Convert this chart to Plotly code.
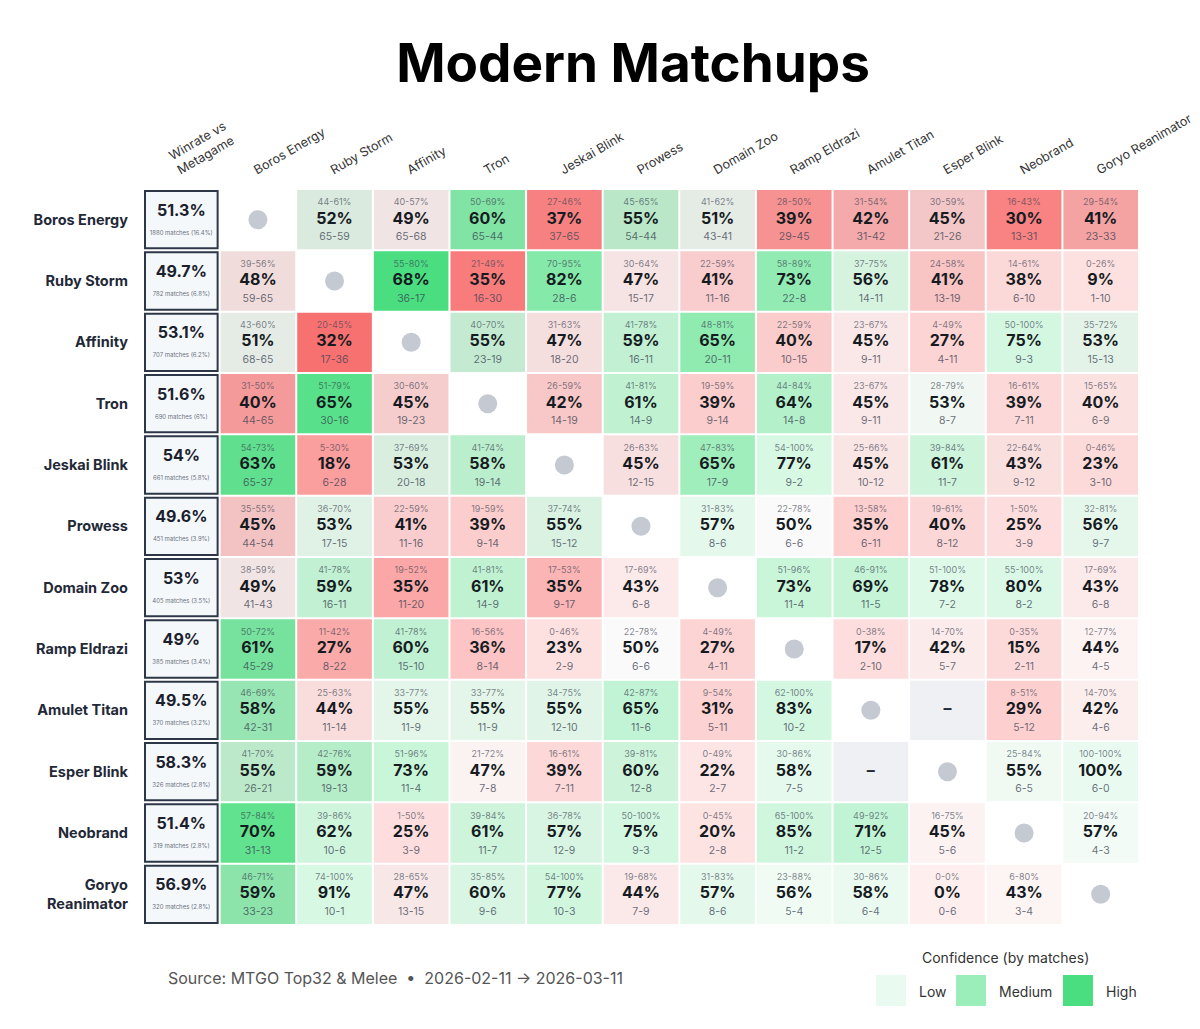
import plotly.graph_objects as go

DECKS = ["Boros Energy", "Ruby Storm", "Affinity", "Tron", "Jeskai Blink", "Prowess",
         "Domain Zoo", "Ramp Eldrazi", "Amulet Titan", "Esper Blink", "Neobrand", "Goryo Reanimator"]
ROW_LABELS = ["Boros Energy", "Ruby Storm", "Affinity", "Tron", "Jeskai Blink", "Prowess",
              "Domain Zoo", "Ramp Eldrazi", "Amulet Titan", "Esper Blink", "Neobrand", "Goryo<br>Reanimator"]
HEADER_FIRST = "Winrate vs<br>Metagame"

META_WR = [51.3, 49.7, 53.1, 51.6, 54, 49.6, 53, 49, 49.5, 58.3, 51.4, 56.9]
META_MATCHES = [1880, 782, 707, 690, 661, 451, 405, 385, 370, 326, 319, 320]
META_SHARE = ["16.4", "6.8", "6.2", "6", "5.8", "3.9", "3.5", "3.4", "3.2", "2.8", "2.8", "2.8"]

N = None
WR = [
    [N, 52, 49, 60, 37, 55, 51, 39, 42, 45, 30, 41],
    [48, N, 68, 35, 82, 47, 41, 73, 56, 41, 38, 9],
    [51, 32, N, 55, 47, 59, 65, 40, 45, 27, 75, 53],
    [40, 65, 45, N, 42, 61, 39, 64, 45, 53, 39, 40],
    [63, 18, 53, 58, N, 45, 65, 77, 45, 61, 43, 23],
    [45, 53, 41, 39, 55, N, 57, 50, 35, 40, 25, 56],
    [49, 59, 35, 61, 35, 43, N, 73, 69, 78, 80, 43],
    [61, 27, 60, 36, 23, 50, 27, N, 17, 42, 15, 44],
    [58, 44, 55, 55, 55, 65, 31, 83, N, N, 29, 42],
    [55, 59, 73, 47, 39, 60, 22, 58, N, N, 55, 100],
    [70, 62, 25, 61, 57, 75, 20, 85, 71, 45, N, 57],
    [59, 91, 47, 60, 77, 44, 57, 56, 58, 0, 43, N],
]
CI_LO = [
    [N, 44, 40, 50, 27, 45, 41, 28, 31, 30, 16, 29],
    [39, N, 55, 21, 70, 30, 22, 58, 37, 24, 14, 0],
    [43, 20, N, 40, 31, 41, 48, 22, 23, 4, 50, 35],
    [31, 51, 30, N, 26, 41, 19, 44, 23, 28, 16, 15],
    [54, 5, 37, 41, N, 26, 47, 54, 25, 39, 22, 0],
    [35, 36, 22, 19, 37, N, 31, 22, 13, 19, 1, 32],
    [38, 41, 19, 41, 17, 17, N, 51, 46, 51, 55, 17],
    [50, 11, 41, 16, 0, 22, 4, N, 0, 14, 0, 12],
    [46, 25, 33, 33, 34, 42, 9, 62, N, N, 8, 14],
    [41, 42, 51, 21, 16, 39, 0, 30, N, N, 25, 100],
    [57, 39, 1, 39, 36, 50, 0, 65, 49, 16, N, 20],
    [46, 74, 28, 35, 54, 19, 31, 23, 30, 0, 6, N],
]
CI_HI = [
    [N, 61, 57, 69, 46, 65, 62, 50, 54, 59, 43, 54],
    [56, N, 80, 49, 95, 64, 59, 89, 75, 58, 61, 26],
    [60, 45, N, 70, 63, 78, 81, 59, 67, 49, 100, 72],
    [50, 79, 60, N, 59, 81, 59, 84, 67, 79, 61, 65],
    [73, 30, 69, 74, N, 63, 83, 100, 66, 84, 64, 46],
    [55, 70, 59, 59, 74, N, 83, 78, 58, 61, 50, 81],
    [59, 78, 52, 81, 53, 69, N, 96, 91, 100, 100, 69],
    [72, 42, 78, 56, 46, 78, 49, N, 38, 70, 35, 77],
    [69, 63, 77, 77, 75, 87, 54, 100, N, N, 51, 70],
    [70, 76, 96, 72, 61, 81, 49, 86, N, N, 84, 100],
    [84, 86, 50, 84, 78, 100, 45, 100, 92, 75, N, 94],
    [71, 100, 65, 85, 100, 68, 83, 88, 86, 0, 80, N],
]
WINS = [
    [N, 65, 65, 65, 37, 54, 43, 29, 31, 21, 13, 23],
    [59, N, 36, 16, 28, 15, 11, 22, 14, 13, 6, 1],
    [68, 17, N, 23, 18, 16, 20, 10, 9, 4, 9, 15],
    [44, 30, 19, N, 14, 14, 9, 14, 9, 8, 7, 6],
    [65, 6, 20, 19, N, 12, 17, 9, 10, 11, 9, 3],
    [44, 17, 11, 9, 15, N, 8, 6, 6, 8, 3, 9],
    [41, 16, 11, 14, 9, 6, N, 11, 11, 7, 8, 6],
    [45, 8, 15, 8, 2, 6, 4, N, 2, 5, 2, 4],
    [42, 11, 11, 11, 12, 11, 5, 10, N, N, 5, 4],
    [26, 19, 11, 7, 7, 12, 2, 7, N, N, 6, 6],
    [31, 10, 3, 11, 12, 9, 2, 11, 12, 5, N, 4],
    [33, 10, 13, 9, 10, 7, 8, 5, 6, 0, 3, N],
]
LOSSES = [
    [N, 59, 68, 44, 65, 44, 41, 45, 42, 26, 31, 33],
    [65, N, 17, 30, 6, 17, 16, 8, 11, 19, 10, 10],
    [65, 36, N, 19, 20, 11, 11, 15, 11, 11, 3, 13],
    [65, 16, 23, N, 19, 9, 14, 8, 11, 7, 11, 9],
    [37, 28, 18, 14, N, 15, 9, 2, 12, 7, 12, 10],
    [54, 15, 16, 14, 12, N, 6, 6, 11, 12, 9, 7],
    [43, 11, 20, 9, 17, 8, N, 4, 5, 2, 2, 8],
    [29, 22, 10, 14, 9, 6, 11, N, 10, 7, 11, 5],
    [31, 14, 9, 9, 10, 6, 11, 2, N, N, 12, 6],
    [21, 13, 4, 8, 11, 8, 7, 5, N, N, 5, 0],
    [13, 6, 9, 7, 9, 3, 8, 2, 5, 6, N, 3],
    [23, 1, 15, 6, 3, 9, 6, 4, 4, 6, 4, N],
]

LEGEND_LABELS = ["Low", "Medium", "High"]
LEGEND_ALPHA = [0.12, 0.55, 1.0]

TITLE = "Modern Matchups"
SOURCE = "Source: MTGO Top32 &amp; Melee  •  2026-02-11 → 2026-03-11"
LEGEND_TITLE = "Confidence (by matches)"

# ---------------- styling helpers ----------------
FONT = "Inter"
GREEN = (74, 222, 128)
RED = (248, 113, 113)
GRAY = (240, 236, 236)

OFF = 8  # page body margin
W, H = 1200 - OFF, 1029 - OFF
PL, PT = 143 - OFF, 189 - OFF
PR, PB = 61, 104
NROW = len(DECKS)
NCOL = NROW + 1
XU = (W - PL - PR) / NCOL
YU = (H - PT - PB) / NROW


def mix(c1, c2, t):
    return tuple(c1[k] + (c2[k] - c1[k]) * t for k in range(3))


def rgb(c):
    return "rgb(%d,%d,%d)" % tuple(int(round(v)) for v in c)


def cell_color(wr, n):
    d = max(-1.0, min(1.0, (wr - 50) / 15.0))
    base = GREEN if d >= 0 else RED
    c = mix(GRAY, base, abs(d))
    a = max(0.08, min(1.0, n / 50.0))
    return rgb(mix((255, 255, 255), c, a))


def px_x(px):  # reference pixel -> paper x
    return (px - OFF - PL) / (W - PL - PR)


def px_y(py):  # reference pixel -> paper y
    return (H - PB - (py - OFF)) / (H - PT - PB)


shapes = []
fig = go.Figure()

# first column (winrate vs metagame)
gx, gy = 2 / XU, 2 / YU
for i in range(NROW):
    shapes.append(dict(type="rect", xref="x", yref="y", x0=-0.5 + gx, x1=0.5 - gx,
                       y0=i - 0.5 + gy, y1=i + 0.5 - gy,
                       fillcolor="#f5f8fb", line=dict(color="#2d3748", width=2), layer="below"))

fig.add_trace(go.Scatter(
    x=[0] * NROW, y=[i - 8 / YU for i in range(NROW)], mode="text",
    text=["<b>%s%%</b>" % (("%g" % v)) for v in META_WR],
    textfont=dict(family=FONT, size=16, color="#1a202c"), hoverinfo="skip", showlegend=False))
fig.add_trace(go.Scatter(
    x=[0] * NROW, y=[i + 13.5 / YU for i in range(NROW)], mode="text",
    text=["%d matches (%s%%)" % (m, s) for m, s in zip(META_MATCHES, META_SHARE)],
    textfont=dict(family=FONT, size=6, color="#6b7280"), hoverinfo="skip", showlegend=False))

# matrix cells
cx, cy = 1 / XU, 1 / YU
diag_x, diag_y = [], []
miss_x, miss_y = [], []
tx, ty, t_pct, t_ci, t_rec = [], [], [], [], []
for i in range(NROW):
    for j in range(NROW):
        x = j + 1
        if i == j:
            fill = "#ffffff"
            diag_x.append(x)
            diag_y.append(i)
        elif WR[i][j] is None:
            fill = "#eef0f3"
            miss_x.append(x)
            miss_y.append(i)
        else:
            fill = cell_color(WR[i][j], WINS[i][j] + LOSSES[i][j])
            tx.append(x)
            ty.append(i)
            t_pct.append("<b>%d%%</b>" % WR[i][j])
            t_ci.append("%d-%d%%" % (CI_LO[i][j], CI_HI[i][j]))
            t_rec.append("%d-%d" % (WINS[i][j], LOSSES[i][j]))
        shapes.append(dict(type="rect", xref="x", yref="y", x0=x - 0.5 + cx, x1=x + 0.5 - cx,
                           y0=i - 0.5 + cy, y1=i + 0.5 - cy,
                           fillcolor=fill, line=dict(width=0), layer="below"))

fig.add_trace(go.Scatter(x=tx, y=ty, mode="text", text=t_pct,
                         textfont=dict(family=FONT, size=16, color="#161b22"),
                         hoverinfo="skip", showlegend=False))
fig.add_trace(go.Scatter(x=tx, y=[v - 16.5 / YU for v in ty], mode="text", text=t_ci,
                         textfont=dict(family=FONT, size=9, color="rgba(55,65,81,0.65)"),
                         hoverinfo="skip", showlegend=False))
fig.add_trace(go.Scatter(x=tx, y=[v + 18 / YU for v in ty], mode="text", text=t_rec,
                         textfont=dict(family=FONT, size=10.5, color="rgba(55,65,81,0.75)"),
                         hoverinfo="skip", showlegend=False))
fig.add_trace(go.Scatter(x=diag_x, y=diag_y, mode="markers",
                         marker=dict(size=19, color="#c5c9d2", line=dict(width=0)),
                         hoverinfo="skip", showlegend=False))
fig.add_trace(go.Scatter(x=miss_x, y=miss_y, mode="text", text=["<b>–</b>"] * len(miss_x),
                         textfont=dict(family=FONT, size=16, color="#1f2937"),
                         hoverinfo="skip", showlegend=False))

# legend (confidence swatches)
annotations = []
sw_left = [876, 956, 1063]
for k, (lab, a) in enumerate(zip(LEGEND_LABELS, LEGEND_ALPHA)):
    shapes.append(dict(type="rect", xref="paper", yref="paper",
                       x0=px_x(sw_left[k]), x1=px_x(sw_left[k] + 30),
                       y0=px_y(1006), y1=px_y(975),
                       fillcolor=rgb(mix((255, 255, 255), GREEN, a)), line=dict(width=0)))
    annotations.append(dict(xref="paper", yref="paper", x=px_x(sw_left[k] + 41), y=px_y(991),
                            text=lab, showarrow=False, xanchor="left", yanchor="middle",
                            font=dict(family=FONT, size=14, color="#333333")))
annotations.append(dict(xref="paper", yref="paper", x=px_x(1005), y=px_y(958),
                        text=LEGEND_TITLE, showarrow=False, xanchor="center", yanchor="middle",
                        font=dict(family=FONT, size=14, color="#333333")))
annotations.append(dict(xref="paper", yref="paper", x=px_x(166), y=px_y(978),
                        text=SOURCE, showarrow=False, xanchor="left", yanchor="middle",
                        font=dict(family=FONT, size=16, color="#555555")))

fig.update_layout(
    width=W, height=H,
    margin=dict(l=PL, r=PR, t=PT, b=PB),
    paper_bgcolor="white", plot_bgcolor="white",
    title=dict(text="<b>%s</b>" % TITLE, x=(633 - OFF) / W, xanchor="center",
               y=1 - (63 - OFF) / H, yanchor="middle", yref="container",
               font=dict(family=FONT, size=53, color="#000000", weight=900)),
    shapes=shapes, annotations=annotations,
    xaxis=dict(range=[-0.5, NCOL - 0.5], side="top", tickmode="array",
               tickvals=list(range(NCOL)), ticktext=[HEADER_FIRST] + DECKS,
               tickangle=-30, tickfont=dict(family=FONT, size=12.6, color="#333333"),
               showgrid=False, zeroline=False, showline=False, ticks="",
               ticklabelstandoff=10, ticklabelshift=-4, ticklabeloverflow="allow",
               automargin=False, fixedrange=True),
    yaxis=dict(range=[NROW - 0.5, -0.5], tickmode="array", tickvals=list(range(NROW)),
               ticktext=["<b>%s</b>" % s for s in ROW_LABELS],
               tickfont=dict(family=FONT, size=14.5, color="#1f2937"),
               showgrid=False, zeroline=False, showline=False, ticks="",
               ticklabelstandoff=14, automargin=False, fixedrange=True),
    font=dict(family=FONT),
)

fig.write_html("out.html")
